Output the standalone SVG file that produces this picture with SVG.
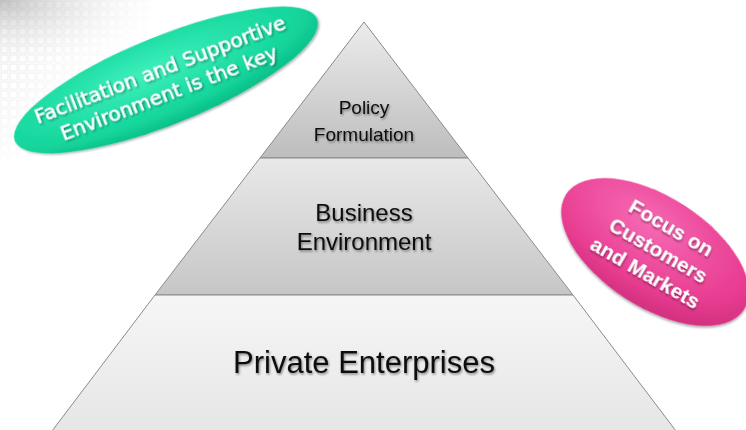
<svg xmlns="http://www.w3.org/2000/svg" width="746" height="430" viewBox="0 0 746 430">
<defs>
<linearGradient id="gPolicy" x1="0" y1="0" x2="0" y2="1">
<stop offset="0" stop-color="#ececec"/><stop offset="1" stop-color="#bdbdbd"/>
</linearGradient>
<linearGradient id="gBiz" x1="0" y1="0" x2="0" y2="1">
<stop offset="0" stop-color="#e9e9e9"/><stop offset="1" stop-color="#c6c6c6"/>
</linearGradient>
<linearGradient id="gPriv" x1="0" y1="0" x2="0" y2="1">
<stop offset="0" stop-color="#f6f6f6"/><stop offset="1" stop-color="#e6e6e6"/>
</linearGradient>
<radialGradient id="gGreen" cx="0.45" cy="0.35" r="0.7">
<stop offset="0" stop-color="#3ff0bd"/><stop offset="0.7" stop-color="#14d69c"/><stop offset="1" stop-color="#0bb784"/>
</radialGradient>
<radialGradient id="gPink" cx="0.4" cy="0.3" r="0.75">
<stop offset="0" stop-color="#f76ab4"/><stop offset="0.7" stop-color="#e83d91"/><stop offset="1" stop-color="#cf2d7c"/>
</radialGradient>
<radialGradient id="gCorner" cx="0" cy="0" r="1">
<stop offset="0" stop-color="#aaaaaa" stop-opacity="0.7"/><stop offset="1" stop-color="#ffffff" stop-opacity="0"/>
</radialGradient>
<pattern id="grid" width="9" height="9" patternUnits="userSpaceOnUse">
<rect x="1" y="1" width="7" height="7" fill="none" stroke="#d8d8d8" stroke-width="1"/>
</pattern>
<linearGradient id="fade" x1="0" y1="0" x2="1" y2="1">
<stop offset="0" stop-color="#fff" stop-opacity="0.2"/><stop offset="0.6" stop-color="#fff" stop-opacity="1"/>
</linearGradient>
<filter id="sh" x="-10%" y="-10%" width="120%" height="130%">
<feDropShadow dx="1" dy="1.5" stdDeviation="1" flood-color="#000" flood-opacity="0.35"/>
</filter>
<filter id="tsh" x="-10%" y="-20%" width="120%" height="150%">
<feDropShadow dx="1" dy="1.5" stdDeviation="0.8" flood-color="#000" flood-opacity="0.45"/>
</filter>
</defs>
<style>
.layer{stroke:#8a8a8a;stroke-width:1}
.lbl{font-family:"Liberation Sans",Arial,sans-serif;fill:#111;text-anchor:middle;filter:url(#tsh)}
.bubg{font-family:"DejaVu Sans","Liberation Sans",sans-serif;fill:#fff;stroke:#fff;stroke-width:0.4;text-anchor:middle;filter:url(#tsh);font-size:20px}
.bubp{font-family:"Liberation Sans",Arial,sans-serif;fill:#fff;text-anchor:middle;filter:url(#tsh);font-size:21px;font-weight:bold}
</style>
<rect width="746" height="430" fill="#ffffff"/>
<g id="background">
<rect x="0" y="0" width="150" height="160" fill="url(#grid)"/>
<rect x="0" y="0" width="150" height="160" fill="url(#fade)"/>
<rect x="0" y="0" width="160" height="70" fill="url(#gCorner)"/>
</g>
<g id="policy">
<polygon class="layer" points="364,22 468,158 260,158" fill="url(#gPolicy)"/>
<text class="lbl" x="364" y="114" font-size="19">Policy</text>
<text class="lbl" x="364" y="141" font-size="19">Formulation</text>
</g>
<g id="business">
<polygon class="layer" points="260,158 468,158 573,295 155,295" fill="url(#gBiz)"/>
<text class="lbl" x="364" y="221" font-size="24">Business</text>
<text class="lbl" x="364" y="250" font-size="24">Environment</text>
</g>
<g id="private">
<polygon class="layer" points="155,295 573,295 676,431 52,431" fill="url(#gPriv)"/>
<text class="lbl" x="364" y="373" font-size="31">Private Enterprises</text>
</g>
<g id="facilitation">
<ellipse cx="166" cy="80" rx="163" ry="44" transform="rotate(-22 166 80)" fill="url(#gGreen)" filter="url(#sh)"/>
<g transform="rotate(-21 166 80)">
<text class="bubg" x="164" y="75">Facilitation and Supportive</text>
<text class="bubg" x="164" y="100">Environment is the key</text>
</g>
</g>
<g id="focus">
<ellipse cx="655" cy="252" rx="106" ry="55" transform="rotate(33 655 252)" fill="url(#gPink)" filter="url(#sh)"/>
<g transform="rotate(30 655 252)">
<text class="bubp" x="657" y="230">Focus on</text>
<text class="bubp" x="657" y="256">Customers</text>
<text class="bubp" x="657" y="282">and Markets</text>
</g>
</g>
<g id="connectors"></g>
</svg>
